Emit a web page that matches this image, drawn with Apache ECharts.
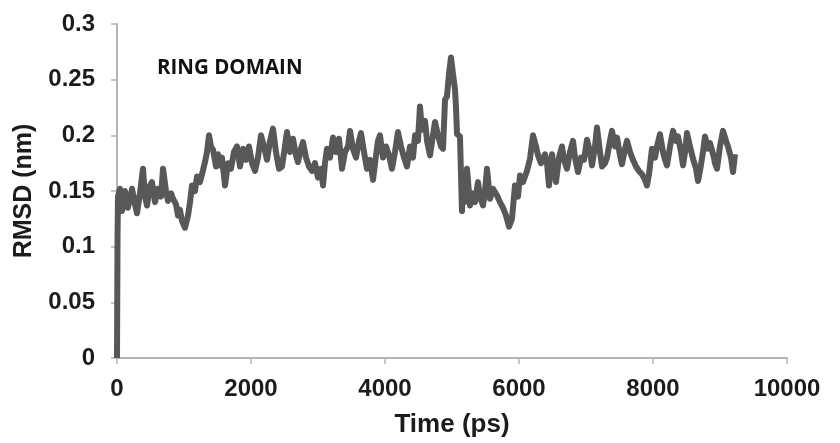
<!DOCTYPE html>
<html>
<head>
<meta charset="utf-8">
<script src="https://cdn.jsdelivr.net/npm/echarts@6/dist/echarts.min.js"></script>
<style>
html,body{margin:0;padding:0;background:#fff;}
#chart{width:840px;height:443px;}
</style>
</head>
<body>
<div id="chart"></div>
<script>
// Time (ps) and RMSD (nm)
const timePs = [
0,8,15,45,75,119,164,224,269,299,343,388,418,448,493,522,567,612,657,687,731,761,806,836,881,910,940,970,1015,1060,1090,1119,1164,1194,1239,1269,1313,1343,1373,1403,1433,1478,1507,1537,1567,1612,1657,1701,1746,1791,1836,1881,1925,1970,2015,2060,2104,2149,2194,2239,2284,2328,2373,2418,2463,2507,2537,2582,2627,2672,2701,2746,2776,2821,2866,2910,2955,3000,3045,3075,3104,3134,3179,3224,3269,3313,3358,3403,3448,3478,3522,3567,3612,3642,3687,3731,3776,3821,3866,3895,3925,3970,4015,4060,4104,4149,4194,4239,4284,4328,4373,4418,4448,4492,4522,4552,4597,4627,4672,4716,4746,4791,4836,4866,4896,4925,4955,4985,5015,5045,5060,5075,5119,5149,5164,5194,5224,5269,5299,5343,5388,5418,5463,5493,5522,5567,5612,5672,5716,5761,5806,5851,5895,5940,5985,6015,6060,6119,6164,6209,6254,6284,6328,6388,6418,6448,6493,6522,6552,6597,6642,6672,6716,6761,6806,6836,6881,6925,6970,7015,7060,7090,7134,7164,7209,7239,7284,7313,7358,7388,7433,7463,7507,7537,7582,7612,7657,7701,7746,7791,7836,7881,7910,7940,7985,8030,8060,8104,8149,8179,8209,8254,8299,8343,8373,8418,8448,8478,8507,8552,8597,8642,8672,8701,8746,8776,8821,8851,8910,8925,8955,9000,9045,9090,9119,9164,9194,9224
];
const rmsdNm = [
0,0.11,0.145,0.152,0.132,0.15,0.135,0.152,0.138,0.13,0.148,0.17,0.145,0.137,0.155,0.158,0.14,0.152,0.145,0.17,0.15,0.141,0.148,0.143,0.138,0.128,0.133,0.123,0.117,0.128,0.14,0.155,0.15,0.163,0.158,0.165,0.176,0.185,0.2,0.19,0.187,0.172,0.183,0.173,0.18,0.155,0.175,0.17,0.185,0.19,0.172,0.188,0.178,0.19,0.175,0.168,0.18,0.2,0.19,0.178,0.195,0.206,0.185,0.17,0.172,0.19,0.203,0.185,0.197,0.182,0.176,0.188,0.194,0.18,0.172,0.168,0.175,0.162,0.17,0.155,0.175,0.188,0.18,0.198,0.185,0.197,0.17,0.185,0.19,0.204,0.188,0.18,0.195,0.202,0.185,0.17,0.178,0.16,0.182,0.195,0.2,0.18,0.19,0.182,0.17,0.185,0.203,0.19,0.18,0.172,0.19,0.18,0.2,0.195,0.226,0.205,0.213,0.195,0.182,0.2,0.212,0.2,0.19,0.188,0.232,0.235,0.255,0.27,0.255,0.241,0.225,0.201,0.199,0.132,0.15,0.14,0.17,0.137,0.148,0.14,0.158,0.145,0.137,0.15,0.17,0.143,0.152,0.146,0.14,0.135,0.128,0.118,0.125,0.155,0.145,0.164,0.158,0.168,0.179,0.2,0.19,0.182,0.175,0.183,0.175,0.155,0.183,0.17,0.158,0.18,0.19,0.178,0.17,0.185,0.195,0.18,0.167,0.18,0.178,0.196,0.185,0.173,0.19,0.207,0.185,0.172,0.175,0.18,0.195,0.204,0.19,0.198,0.182,0.174,0.188,0.195,0.185,0.178,0.172,0.168,0.165,0.16,0.155,0.165,0.188,0.18,0.19,0.201,0.185,0.178,0.173,0.19,0.204,0.195,0.199,0.185,0.173,0.185,0.202,0.19,0.179,0.17,0.159,0.168,0.185,0.199,0.188,0.193,0.18,0.175,0.17,0.19,0.204,0.195,0.19,0.18,0.167,0.183
];
const xTicks = [0, 2000, 4000, 6000, 8000, 10000];
const yTicks = [0, 0.05, 0.1, 0.15, 0.2, 0.25, 0.3];
const annotation = 'RING DOMAIN';

const seriesData = timePs.map((t, i) => [t, rmsdNm[i]]);
const chart = echarts.init(document.getElementById('chart'), null, {renderer: 'canvas'});
const axisCol = '#b4b4b4';
const txtCol = '#1c1c1c';
chart.setOption({
  animation: false,
  backgroundColor: '#fff',
  grid: {left: 117, right: 53, top: 24, bottom: 82, containLabel: false},
  xAxis: {
    type: 'value', min: xTicks[0], max: xTicks[xTicks.length - 1], interval: 2000,
    name: 'Time (ps)', nameLocation: 'middle', nameGap: 54,
    nameTextStyle: {fontFamily: 'Liberation Sans', fontWeight: 'bold', fontSize: 26, color: txtCol},
    axisLine: {show: true, lineStyle: {color: axisCol, width: 2}},
    axisTick: {show: true, inside: false, length: 6, lineStyle: {color: axisCol, width: 1.5}},
    axisLabel: {margin: 19, fontFamily: 'Liberation Sans', fontWeight: 'bold', fontSize: 24, color: txtCol,
      formatter: v => String(v)},
    splitLine: {show: false}
  },
  yAxis: {
    type: 'value', min: yTicks[0], max: yTicks[yTicks.length - 1], interval: 0.05,
    name: 'RMSD (nm)', nameLocation: 'middle', nameGap: 80,
    nameTextStyle: {fontFamily: 'Liberation Sans', fontWeight: 'bold', fontSize: 25, color: txtCol},
    axisLine: {show: true, lineStyle: {color: axisCol, width: 2}},
    axisTick: {show: true, inside: false, length: 6, lineStyle: {color: axisCol, width: 1.5}},
    axisLabel: {margin: 22, fontFamily: 'Liberation Sans', fontWeight: 'bold', fontSize: 24, color: txtCol,
      formatter: v => String(parseFloat(v.toFixed(2)))},
    splitLine: {show: false}
  },
  graphic: [{
    type: 'text', left: 157, top: 58,
    style: {text: annotation, fontFamily: 'Open Sans', fontWeight: 'bold', fontSize: 20.5, fill: '#111'}
  }],
  series: [{
    type: 'line', data: seriesData, showSymbol: false, smooth: false,
    lineStyle: {color: '#585858', width: 6, join: 'round'},
    clip: false
  }]
});
</script>
</body>
</html>
